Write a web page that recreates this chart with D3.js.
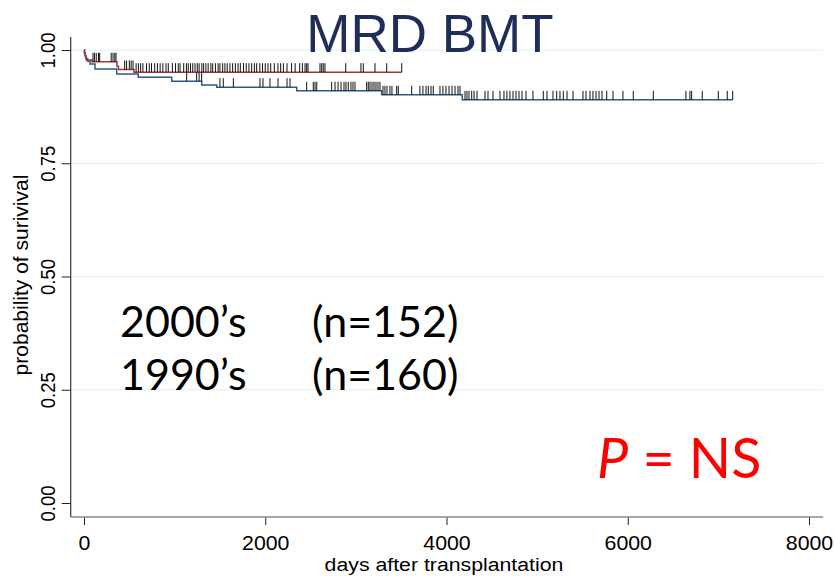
<!DOCTYPE html>
<html>
<head>
<meta charset="utf-8">
<script src="https://cdn.jsdelivr.net/npm/d3@7/dist/d3.min.js"></script>
<style>
  html, body { margin: 0; padding: 0; background: #fff; }
  svg { display: block; }
</style>
</head>
<body>
<svg id="chart" width="835" height="576"></svg>
<script>
// Kaplan-Meier survival after MRD BMT, two transplant eras.
const xTicks = [0, 2000, 4000, 6000, 8000];
const yTicks = [0, 0.25, 0.5, 0.75, 1];
const yTickLabels = ["0.00", "0.25", "0.50", "0.75", "1.00"];

// Step points [day, survival] and follow-up end for each era
const steps2000s = [[0, 1], [6, 0.993], [14, 0.986], [24, 0.978], [88, 0.974], [364, 0.964], [380, 0.957], [552, 0.951]];
const end2000s = 3506;
const steps1990s = [[0, 1], [5, 0.994], [12, 0.988], [20, 0.981], [40, 0.975], [66, 0.969], [121, 0.958],
  [361, 0.947], [599, 0.940], [968, 0.931], [1299, 0.923], [1464, 0.918], [2347, 0.910], [3285, 0.901], [4174, 0.890]];
const end1990s = 7158;

// Censoring times (days)
const censor2000s = [99, 115, 135, 160, 173, 300, 320, 340, 353, 449, 470, 500, 520, 541,
  575, 600, 625, 650, 690, 720, 745, 780, 810, 840, 870, 905, 930, 975, 1010, 1040, 1060, 1100,
  1130, 1150, 1175, 1200, 1225, 1250, 1270, 1300, 1320, 1345, 1370, 1400, 1420, 1450, 1480, 1500,
  1530, 1555, 1580, 1610, 1640, 1670, 1700, 1725, 1760, 1790, 1820, 1850, 1880, 1905, 1940, 1970,
  2000, 2030, 2060, 2100, 2140, 2170, 2200, 2240, 2290, 2330, 2380, 2410, 2439, 2457, 2472, 2604,
  2623, 2640, 2659, 2888, 3056, 3082, 3211, 3340, 3506];
const censor1990s = [1133, 1243, 1270, 1298, 1500, 1537, 1648, 1942, 1975, 2052, 2141, 2240, 2273,
  2457, 2530, 2549, 2568, 2733, 2770, 2803, 2836, 2869, 2891, 2916, 2946, 2968, 2990, 3119, 3137,
  3156, 3178, 3200, 3222, 3244, 3266, 3299, 3321, 3343, 3376, 3398, 3450, 3468, 3616, 3707, 3740,
  3774, 3799, 3829, 3854, 3928, 3961, 3994, 4028, 4061, 4094, 4127, 4149, 4204, 4226, 4248, 4278,
  4304, 4337, 4425, 4458, 4513, 4590, 4634, 4667, 4700, 4734, 4767, 4800, 4833, 4877, 4954, 5068,
  5109, 5175, 5216, 5252, 5289, 5330, 5396, 5506, 5539, 5583, 5616, 5650, 5683, 5716, 5768, 5837,
  5947, 6061, 6282, 6642, 6686, 6705, 6822, 6999, 7098, 7158];

const groupLabels = ["2000\u2019s", "1990\u2019s"];
const groupCounts = ["(n=152)", "(n=160)"];

const svg = d3.select("#chart");
const x = d3.scaleLinear().domain([0, 8000]).range([84, 809]);
const y = d3.scaleLinear().domain([0, 1]).range([503, 50]);
const axisLeftX = 70.7, axisBottomY = 517;

// light horizontal grid
svg.append("g").selectAll("line").data(yTicks.filter(d => d > 0)).join("line")
  .attr("x1", axisLeftX).attr("x2", 823)
  .attr("y1", d => y(d)).attr("y2", d => y(d))
  .attr("stroke", "#e4eeee").attr("stroke-width", 1);

// y axis
const gy = svg.append("g").attr("transform", `translate(${axisLeftX},0)`)
  .call(d3.axisLeft(y).tickValues(yTicks).tickSize(9).tickFormat((d, i) => yTickLabels[i]));
gy.select(".domain").remove();
gy.selectAll(".tick line").attr("stroke", "#222");
gy.selectAll(".tick text")
  .attr("font-family", "Liberation Sans, Arial, sans-serif")
  .attr("font-size", 21).attr("fill", "#000")
  .attr("text-anchor", "middle").attr("dy", 0).attr("x", 0)
  .attr("transform", "translate(-16,0) rotate(-90) scale(0.88,1)");
svg.append("line").attr("x1", axisLeftX).attr("x2", axisLeftX).attr("y1", 37).attr("y2", axisBottomY)
  .attr("stroke", "#333").attr("stroke-width", 1.2);

// x axis
const gx = svg.append("g").attr("transform", `translate(0,${axisBottomY})`)
  .call(d3.axisBottom(x).tickValues(xTicks).tickSize(8).tickFormat(d3.format("d")));
gx.select(".domain").remove();
gx.selectAll(".tick line").attr("stroke", "#222");
gx.selectAll(".tick text")
  .attr("font-family", "Liberation Sans, Arial, sans-serif")
  .attr("font-size", 20.5).attr("fill", "#000").attr("dy", 0).attr("y", 0)
  .attr("transform", "translate(0,32.5) scale(1.04,1)");
svg.append("line").attr("x1", axisLeftX).attr("x2", 823).attr("y1", axisBottomY).attr("y2", axisBottomY)
  .attr("stroke", "#8a8a8a").attr("stroke-width", 1.6);

// axis titles
svg.append("text").attr("transform", "translate(444,571) scale(1.12,1)").attr("text-anchor", "middle")
  .attr("font-family", "Liberation Sans, Arial, sans-serif").attr("font-size", 19)
  .text("days after transplantation");
svg.append("text").attr("transform", "translate(28,275) rotate(-90)").attr("text-anchor", "middle")
  .attr("font-family", "Liberation Sans, Arial, sans-serif").attr("font-size", 21)
  .text("probability of surivival");

// survival curves
function stepPath(steps, end) {
  const pts = [];
  steps.forEach((s, i) => {
    if (i > 0) pts.push([s[0], steps[i - 1][1]]);
    pts.push(s);
  });
  pts.push([end, steps[steps.length - 1][1]]);
  return d3.line().x(d => x(d[0])).y(d => y(d[1]))(pts);
}
function survAt(steps, t) {
  let v = 1;
  for (const s of steps) if (s[0] <= t) v = s[1];
  return v;
}
const groups = [
  { steps: steps1990s, end: end1990s, censor: censor1990s, color: "#2b5b88" },
  { steps: steps2000s, end: end2000s, censor: censor2000s, color: "#a8343e" }
];
groups.forEach(g => {
  svg.append("path").attr("d", stepPath(g.steps, g.end))
    .attr("fill", "none").attr("stroke", g.color).attr("stroke-width", 1.5);
});
groups.forEach(g => {
  svg.append("g").selectAll("line").data(g.censor).join("line")
    .attr("x1", d => x(d)).attr("x2", d => x(d))
    .attr("y1", d => y(survAt(g.steps, d))).attr("y2", d => y(survAt(g.steps, d)) - 9)
    .attr("stroke", "#111").attr("stroke-width", 1);
});

// title
svg.append("text").attr("x", 430).attr("y", 52).attr("text-anchor", "middle")
  .attr("font-family", "Liberation Sans, Arial, sans-serif").attr("font-size", 53)
  .attr("fill", "#1f2e58").text("MRD BMT");

// group labels
const big = svg.append("g").attr("font-family", "Lato, 'Open Sans', sans-serif").attr("font-size", 43).attr("fill", "#000");
groupLabels.forEach((t, i) => {
  big.append("text").attr("x", 120).attr("y", 337 + i * 53).text(t);
  big.append("text").attr("x", 312).attr("y", 337 + i * 53).text(groupCounts[i]);
});

// p-value annotation
const p = svg.append("text").attr("x", 597).attr("y", 478)
  .attr("font-family", "Lato, 'Open Sans', sans-serif").attr("font-size", 55.5).attr("fill", "#ff0000");
p.append("tspan").attr("font-style", "italic").text("P");
p.append("tspan").text(" = NS");
</script>
</body>
</html>
